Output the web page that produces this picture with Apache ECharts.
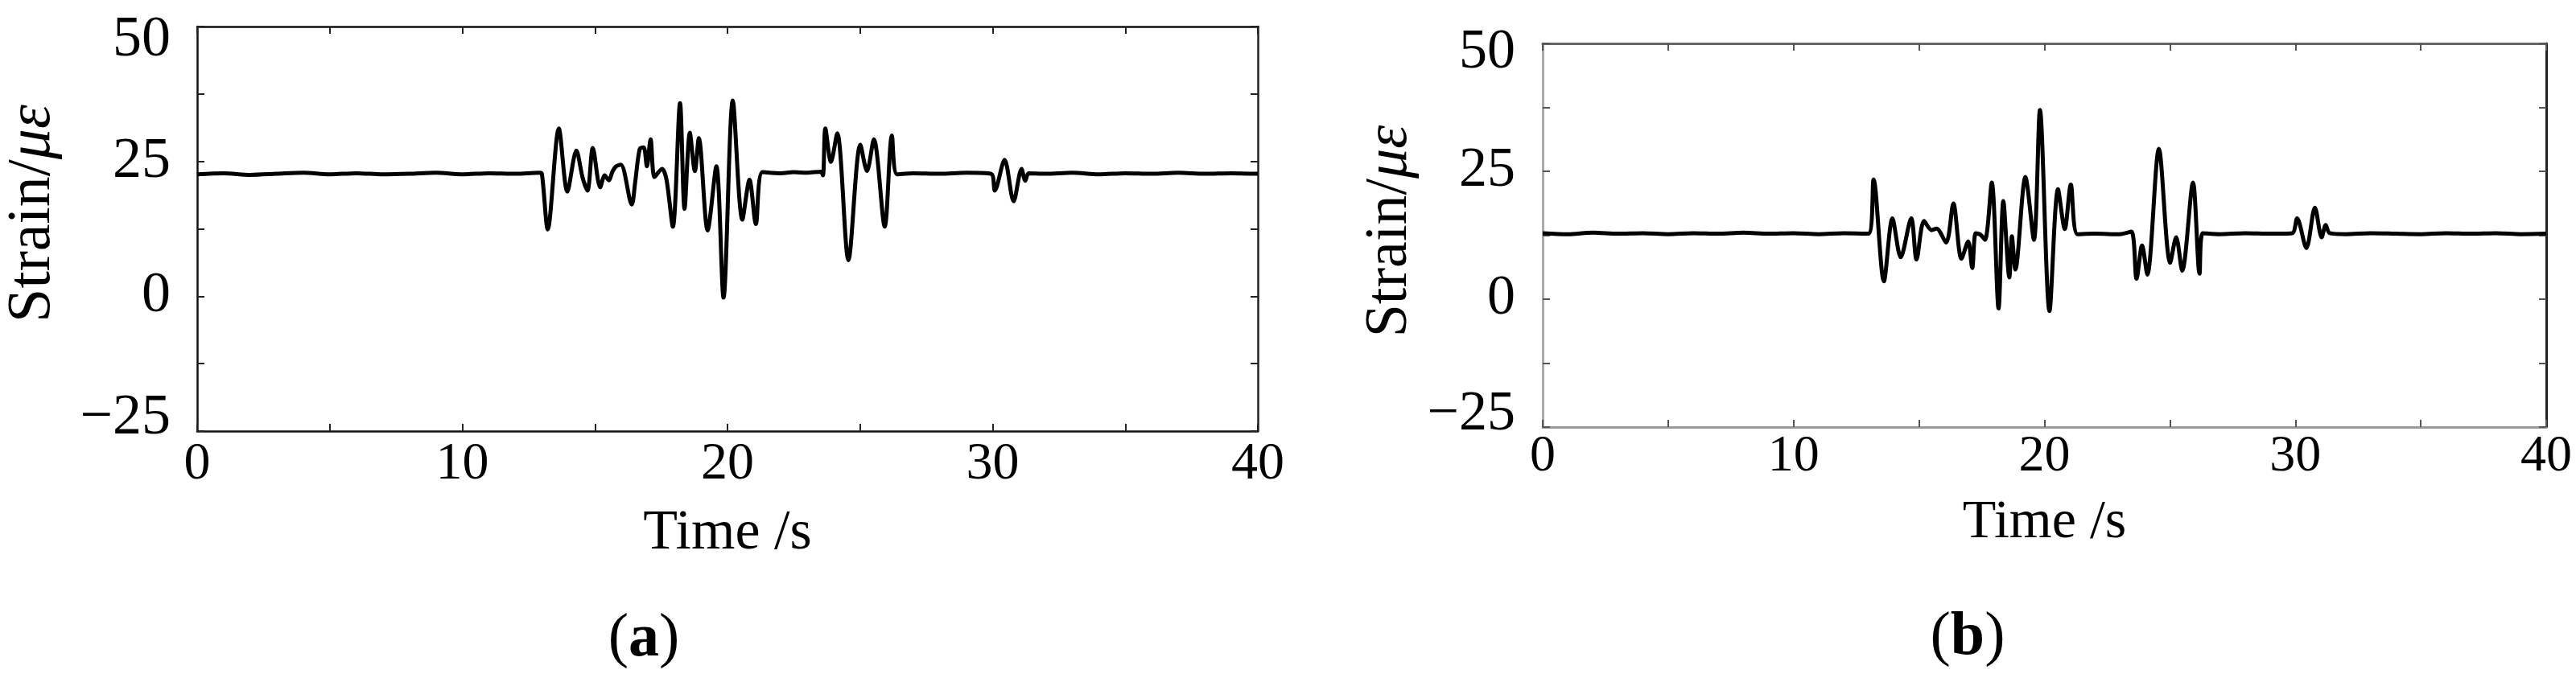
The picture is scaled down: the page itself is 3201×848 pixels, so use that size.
<!DOCTYPE html>
<html>
<head>
<meta charset="utf-8">
<script src="https://cdn.jsdelivr.net/npm/echarts@6/dist/echarts.min.js"></script>
<style>
  html, body { margin: 0; padding: 0; background: #fff; }
  #chart { width: 3201px; height: 848px; }
</style>
</head>
<body>
<div id="chart"></div>
<script>
// ---- data ----
const xTicks = [0, 10, 20, 30, 40];
const yTicks = [-25, 0, 25, 50];

// panel (a): [time s, strain με]
const strainA = [
  [0,22.6],[1,22.8],[2,22.5],[3,22.7],[4,22.9],[5,22.6],[6,22.8],[7,22.6],[8,22.7],[9,22.9],
  [10,22.6],[11,22.8],[12,22.7],[12.9,22.9],[13.0,22.7],[13.22,12.4],[13.64,31.1],[13.96,19.4],
  [14.3,27.0],[14.54,21.9],[14.72,19.6],[14.92,27.5],[15.2,20.2],[15.37,22.4],[15.52,21.5],
  [15.67,23.2],[15.8,24.1],[15.98,24.4],[16.39,17.0],[16.52,21.2],[16.69,27.3],[16.84,27.6],
  [16.96,24.1],[17.1,29.1],[17.25,22.1],[17.53,23.6],[17.7,21.6],[17.94,12.9],[18.21,35.8],
  [18.38,16.2],[18.58,30.3],[18.77,23.2],[18.92,29.3],[19.25,12.2],[19.58,24.1],[19.85,-0.25],
  [20.2,36.3],[20.56,14.2],[20.83,21.6],[21.07,13.4],[21.32,23.0],[22,22.8],[22.5,23.0],
  [23,22.9],[23.52,23.1],[23.6,22.4],[23.69,31.1],[23.9,24.9],[24.14,30.2],[24.56,6.7],
  [25.01,28.1],[25.26,23.2],[25.52,29.1],[25.93,12.9],[26.2,29.8],[26.4,22.6],[27,22.8],
  [28,22.7],[29,22.9],[29.94,22.7],[30.08,19.6],[30.45,25.3],[30.79,17.6],[31.09,23.6],
  [31.23,21.4],[31.36,22.8],[32,22.7],[33,22.9],[34,22.6],[35,22.8],[36,22.7],[37,22.9],
  [38,22.7],[39,22.8],[40,22.7]
];

// panel (b): [time s, strain με]
const strainB = [
  [0,12.9],[1,12.7],[2,13.0],[3,12.8],[4,12.9],[5,12.7],[6,12.9],[7,12.8],[8,13.0],[9,12.8],
  [10,12.9],[11,12.7],[12,12.9],[12.98,12.8],[13.19,23.4],[13.6,3.5],[13.94,15.8],[14.27,8.2],
  [14.69,15.8],[14.9,7.75],[15.2,15.3],[15.5,13.5],[15.7,13.8],[16.08,11.05],[16.37,18.7],
  [16.69,7.9],[16.96,11.3],[17.12,6.1],[17.26,12.9],[17.45,12.6],[17.63,11.6],[17.9,22.8],
  [18.17,-1.8],[18.36,19.2],[18.6,4.25],[18.7,12.3],[18.84,5.8],[19.24,23.9],[19.58,11.6],
  [19.82,37.0],[20.2,-2.3],[20.54,21.5],[20.81,13.7],[21.05,22.4],[21.32,12.7],[22,12.8],
  [23,12.7],[23.46,13.2],[23.67,4.0],[23.89,10.5],[24.1,4.8],[24.56,29.4],[25.01,7.1],
  [25.25,12.1],[25.49,5.55],[25.92,22.8],[26.18,5.0],[26.31,12.9],[27,12.7],[28,12.9],
  [29,12.8],[29.87,12.9],[30.07,15.8],[30.44,10.0],[30.78,17.9],[31.05,12.1],[31.21,14.5],
  [31.37,12.9],[32,12.7],[33,12.9],[34,12.8],[35,12.7],[36,12.9],[37,12.8],[38,12.9],
  [39,12.7],[40,12.8]
];

const xTitle = 'Time /s';
const yTitleMain = 'Strain/';
const yTitleUnit = 'με';
const panelLabels = ['a', 'b'];

// ---- chart ----
const FONT = '"Liberation Serif", "Times New Roman", serif';
const chart = echarts.init(document.getElementById('chart'), null, { renderer: 'canvas' });

function xLabelFmt(v) { return xTicks.indexOf(v) >= 0 ? String(v) : ''; }
function yLabelFmt(v) {
  if (yTicks.indexOf(v) < 0) return '';
  const s = v < 0 ? '\u2212' + Math.abs(v) : String(v);
  if (v === 50) return '{top|' + s + '}';
  if (v === -25) return '{bot|' + s + '}';
  return s;
}

function panelAxes(gi, cfg) {
  const tick = { show: true, inside: true, length: 9, lineStyle: { color: cfg.tickColor, width: 2 } };
  const xs = [
    {
      type: 'value', gridIndex: gi, min: 0, max: 40, interval: 5, position: 'bottom',
      axisLine: { show: true, onZero: false, lineStyle: { color: cfg.bottomColor, width: cfg.lw } },
      axisTick: tick, splitLine: { show: false },
      axisLabel: { formatter: xLabelFmt, color: '#000', fontFamily: FONT, fontSize: cfg.xTickFont, margin: cfg.xMargin },
      name: xTitle, nameLocation: 'middle', nameGap: cfg.xNameGap,
      nameTextStyle: { color: '#000', fontFamily: FONT, fontSize: cfg.xTitleFont }
    },
    {
      type: 'value', gridIndex: gi, min: 0, max: 40, interval: 5, position: 'top',
      axisLine: { show: true, onZero: false, lineStyle: { color: cfg.topColor, width: cfg.lw } },
      axisTick: tick, splitLine: { show: false }, axisLabel: { show: false }
    }
  ];
  const ys = [
    {
      type: 'value', gridIndex: gi, min: -25, max: 50, interval: 12.5, position: 'left',
      axisLine: { show: true, onZero: false, lineStyle: { color: cfg.leftColor, width: cfg.lw } },
      axisTick: tick, splitLine: { show: false },
      axisLabel: {
        formatter: yLabelFmt, color: '#000', fontFamily: FONT, fontSize: cfg.yTickFont, margin: cfg.yMargin,
        rich: {
          top: { fontFamily: FONT, fontSize: cfg.yTickFont, color: '#000', padding: [cfg.topPad, 0, 0, 0] },
          bot: { fontFamily: FONT, fontSize: cfg.yTickFont, color: '#000', padding: [0, 0, cfg.botPad, 0] }
        }
      },
      name: '{n|' + yTitleMain + '}{i|' + yTitleUnit + '}', nameLocation: 'middle', nameGap: cfg.yNameGap,
      nameTextStyle: {
        color: '#000', fontFamily: FONT, fontSize: cfg.yTitleFont, padding: cfg.yNamePad,
        rich: {
          n: { fontFamily: FONT, fontSize: cfg.yTitleFont, color: '#000' },
          i: { fontFamily: FONT, fontSize: cfg.yTitleFont, color: '#000', fontStyle: 'italic' }
        }
      }
    },
    {
      type: 'value', gridIndex: gi, min: -25, max: 50, interval: 12.5, position: 'right',
      axisLine: { show: true, onZero: false, lineStyle: { color: cfg.rightColor, width: cfg.lw } },
      axisTick: tick, splitLine: { show: false }, axisLabel: { show: false }
    }
  ];
  return { xs, ys };
}

const pa = panelAxes(0, {
  lw: 2.5, tickColor: '#222', bottomColor: '#111', topColor: '#111', leftColor: '#111', rightColor: '#222',
  xTickFont: 66, yTickFont: 72, xTitleFont: 70, yTitleFont: 76,
  xMargin: 9, yMargin: 33, xNameGap: 93, yNameGap: 166,
  topPad: 34, botPad: 32, yNamePad: [0, 0, 0, 38]
});
const pb = panelAxes(1, {
  lw: 3, tickColor: '#555', bottomColor: '#999', topColor: '#666', leftColor: '#aaa', rightColor: '#222',
  xTickFont: 64, yTickFont: 70, xTitleFont: 68, yTitleFont: 74,
  xMargin: 5, yMargin: 34, xNameGap: 85, yNameGap: 152,
  topPad: 24, botPad: 30, yNamePad: [0, 0, 0, 10]
});

const lineStyle = { color: '#000', width: 5 };

chart.setOption({
  animation: false,
  backgroundColor: '#fff',
  grid: [
    { left: 245, top: 33, width: 1318, height: 503 },
    { left: 1917, top: 54, width: 1247, height: 477 }
  ],
  xAxis: [pa.xs[0], pa.xs[1], pb.xs[0], pb.xs[1]],
  yAxis: [pa.ys[0], pa.ys[1], pb.ys[0], pb.ys[1]],
  series: [
    { type: 'line', xAxisIndex: 0, yAxisIndex: 0, data: strainA, showSymbol: false, smooth: 0.3, lineStyle: lineStyle },
    { type: 'line', xAxisIndex: 2, yAxisIndex: 2, data: strainB, showSymbol: false, smooth: 0.3, lineStyle: lineStyle }
  ],
  graphic: [
    {
      type: 'text', x: 800, y: 795,
      style: {
        text: '{p|(}{b|' + panelLabels[0] + '}{p|)}', align: 'center', verticalAlign: 'middle',
        rich: {
          p: { fontFamily: FONT, fontSize: 76, fill: '#000' },
          b: { fontFamily: FONT, fontSize: 76, fontWeight: 'bold', fill: '#000' }
        }
      }
    },
    {
      type: 'text', x: 2445, y: 793,
      style: {
        text: '{p|(}{b|' + panelLabels[1] + '}{p|)}', align: 'center', verticalAlign: 'middle',
        rich: {
          p: { fontFamily: FONT, fontSize: 76, fill: '#000' },
          b: { fontFamily: FONT, fontSize: 76, fontWeight: 'bold', fill: '#000' }
        }
      }
    }
  ]
});
</script>
</body>
</html>
